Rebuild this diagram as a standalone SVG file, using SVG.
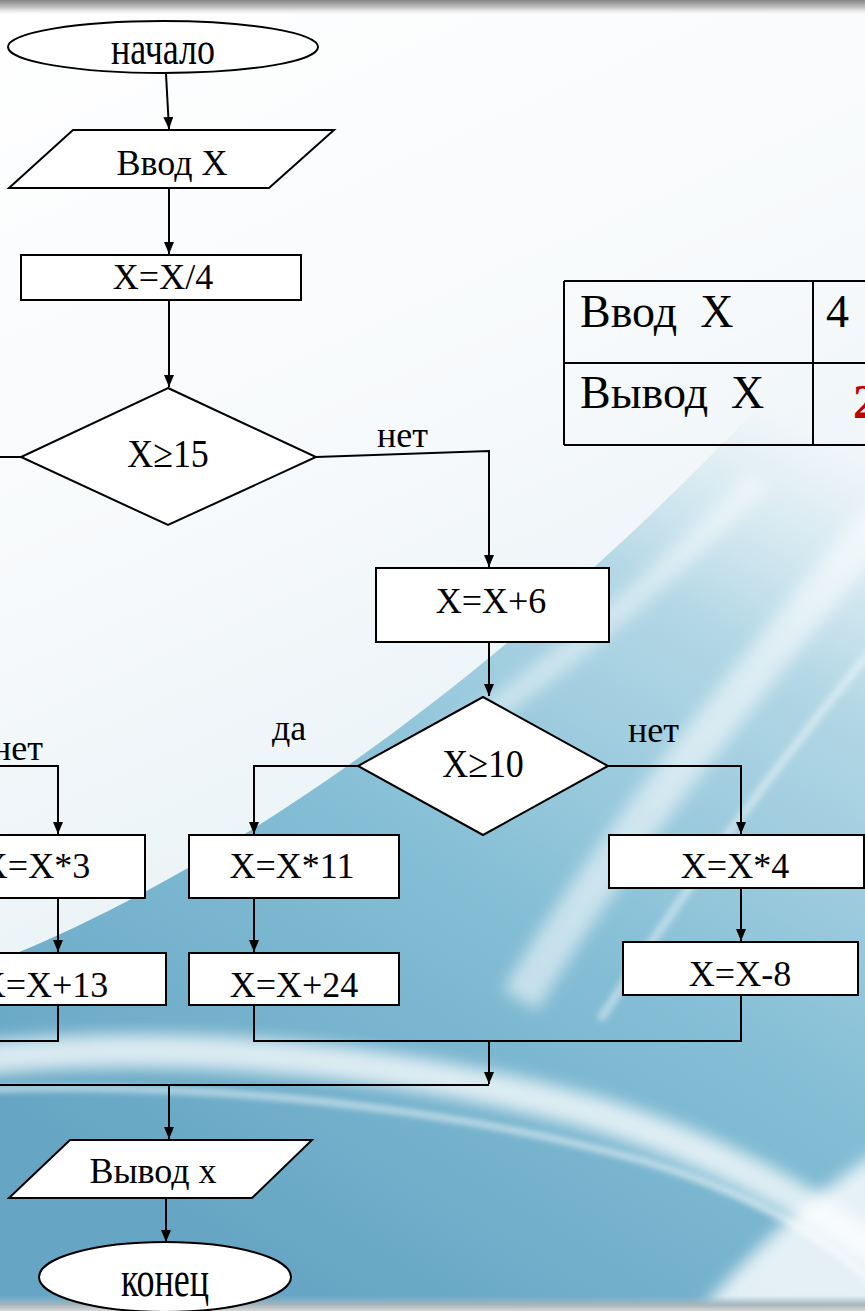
<svg xmlns="http://www.w3.org/2000/svg" width="865" height="1311" viewBox="0 0 865 1311">
<defs>
<linearGradient id="bgBase" x1="0" y1="0" x2="0.3" y2="1">
<stop offset="0" stop-color="#ffffff"/>
<stop offset="0.45" stop-color="#f6f9fb"/>
<stop offset="1" stop-color="#dcecf3"/>
</linearGradient>
<linearGradient id="blueArea" gradientUnits="userSpaceOnUse" x1="760" y1="400" x2="250" y2="1250">
<stop offset="0" stop-color="#bcdde9" stop-opacity="0"/>
<stop offset="0.22" stop-color="#a9d2e2" stop-opacity="0.85"/>
<stop offset="0.55" stop-color="#86bfd6"/>
<stop offset="1" stop-color="#66a6c4"/>
</linearGradient>
<linearGradient id="topBar" x1="0" y1="0" x2="0" y2="1">
<stop offset="0" stop-color="#858585"/>
<stop offset="0.5" stop-color="#c8c8c8"/>
<stop offset="1" stop-color="#ffffff" stop-opacity="0"/>
</linearGradient>
<linearGradient id="botBar" x1="0" y1="0" x2="0" y2="1">
<stop offset="0" stop-color="#9fb9c6" stop-opacity="0"/>
<stop offset="0.6" stop-color="#a9b4ba"/>
<stop offset="1" stop-color="#d8d8d8"/>
</linearGradient>
<filter id="blur8" x="-20%" y="-20%" width="140%" height="140%"><feGaussianBlur stdDeviation="8"/></filter>
<filter id="blur3" x="-20%" y="-20%" width="140%" height="140%"><feGaussianBlur stdDeviation="3"/></filter>
<marker id="arr" markerUnits="userSpaceOnUse" markerWidth="12" markerHeight="10" refX="12" refY="5" orient="auto">
<path d="M0,0 L12,5 L0,10 Z" fill="#000"/>
</marker>
<style>
.shape{fill:#fff;stroke:#000;stroke-width:2}
.conn{fill:none;stroke:#000;stroke-width:2}
.t{font-family:"Liberation Serif","Times New Roman",serif;font-size:36px;fill:#000;text-anchor:middle}
.lbl{font-family:"Liberation Serif","Times New Roman",serif;font-size:36px;fill:#000}
.tb{font-family:"Liberation Serif","Times New Roman",serif;font-size:46px;fill:#000}
</style>
</defs>

<g id="background">
<rect x="0" y="0" width="865" height="1311" fill="url(#bgBase)"/>
<path d="M0,960 C250,860 560,640 865,290 L865,1311 L0,1311 Z" fill="url(#blueArea)"/>
<path d="M-30,1060 C200,1035 420,1065 600,1115 C700,1145 800,1195 880,1255" fill="none" stroke="#ffffff" stroke-width="34" opacity="0.75" filter="url(#blur8)"/>
<path d="M-30,1090 C220,1080 460,1110 640,1160 C740,1190 820,1230 880,1290" fill="none" stroke="#ffffff" stroke-width="6" opacity="0.6" filter="url(#blur3)"/>
<path d="M520,1000 C610,850 740,690 880,520" fill="none" stroke="#ffffff" stroke-width="40" opacity="0.55" filter="url(#blur8)"/>
<path d="M600,1020 C690,880 780,760 880,640" fill="none" stroke="#ffffff" stroke-width="8" opacity="0.45" filter="url(#blur3)"/>
<path d="M700,1311 C760,1240 820,1190 880,1150 L880,1311 Z" fill="#ffffff" opacity="0.8" filter="url(#blur8)"/>
<path d="M400,770 C520,700 640,600 760,480" fill="none" stroke="#ffffff" stroke-width="24" opacity="0.45" filter="url(#blur8)"/>
<rect x="0" y="0" width="865" height="16" fill="url(#topBar)"/>
<rect x="0" y="1296" width="865" height="15" fill="url(#botBar)"/>
</g>

<g id="connectors">
<path class="conn" d="M166,74 L169,129" marker-end="url(#arr)"/>
<path class="conn" d="M169,188 L169,254" marker-end="url(#arr)"/>
<path class="conn" d="M169,300 L169,387" marker-end="url(#arr)"/>
<path class="conn" d="M21,457 L0,457"/>
<path class="conn" d="M316,457 L489,451 L489,567" marker-end="url(#arr)"/>
<path class="conn" d="M489,642 L489,696" marker-end="url(#arr)"/>
<path class="conn" d="M358,766 L254,766 L254,834" marker-end="url(#arr)"/>
<path class="conn" d="M608,766 L741,766 L741,834" marker-end="url(#arr)"/>
<path class="conn" d="M254,898 L254,952" marker-end="url(#arr)"/>
<path class="conn" d="M741,888 L741,941" marker-end="url(#arr)"/>
<path class="conn" d="M0,766 L58,766 L58,834" marker-end="url(#arr)"/>
<path class="conn" d="M58,898 L58,952" marker-end="url(#arr)"/>
<path class="conn" d="M254,1005 L254,1041 L741,1041 L741,995"/>
<path class="conn" d="M489,1041 L489,1084" marker-end="url(#arr)"/>
<path class="conn" d="M58,1005 L58,1041 L0,1041"/>
<path class="conn" d="M0,1085 L489,1085"/>
<path class="conn" d="M169,1085 L169,1139" marker-end="url(#arr)"/>
<path class="conn" d="M166,1198 L166,1242" marker-end="url(#arr)"/>
</g>

<g id="start">
<ellipse class="shape" cx="163" cy="47" rx="155" ry="26"/>
<text class="t" transform="translate(163,64) scale(1,1.3)" x="0" y="0">начало</text>
</g>
<g id="input">
<polygon class="shape" points="73,130 334,130 269,188 9,188"/>
<text class="t" x="172" y="175">Ввод Х</text>
</g>
<g id="div4">
<rect class="shape" x="21" y="255" width="280" height="45"/>
<text class="t" x="163" y="289">X=X/4</text>
</g>
<g id="cond15">
<polygon class="shape" points="168,388 316,457 168,525 21,457"/>
<text class="t" transform="translate(168,467) scale(1,1.1)" x="0" y="0">X≥15</text>
</g>
<g id="lbl-no1"><text class="lbl" x="377" y="447">нет</text></g>
<g id="add6">
<rect class="shape" x="376" y="568" width="233" height="74"/>
<text class="t" x="491" y="613">X=X+6</text>
</g>
<g id="cond10">
<polygon class="shape" points="483,697 608,766 483,835 358,766"/>
<text class="t" transform="translate(483,777) scale(1,1.1)" x="0" y="0">X≥10</text>
</g>
<g id="lbl-yes2"><text class="lbl" x="272" y="740">да</text></g>
<g id="lbl-no2"><text class="lbl" x="628" y="742">нет</text></g>
<g id="lbl-no3"><text class="lbl" x="-8" y="760">нет</text></g>
<g id="mul3">
<rect class="shape" x="-80" y="835" width="225" height="63"/>
<text class="t" x="36" y="878">X=X*3</text>
</g>
<g id="add13">
<rect class="shape" x="-80" y="953" width="246" height="52"/>
<text class="t" x="44" y="997">X=X+13</text>
</g>
<g id="mul11">
<rect class="shape" x="189" y="835" width="210" height="63"/>
<text class="t" x="292" y="878">X=X*11</text>
</g>
<g id="add24">
<rect class="shape" x="189" y="953" width="210" height="52"/>
<text class="t" x="294" y="997">X=X+24</text>
</g>
<g id="mul4">
<rect class="shape" x="609" y="835" width="255" height="53"/>
<text class="t" x="735" y="878">X=X*4</text>
</g>
<g id="sub8">
<rect class="shape" x="623" y="942" width="235" height="53"/>
<text class="t" x="740" y="986">X=X-8</text>
</g>
<g id="output">
<polygon class="shape" points="70,1140 312,1140 252,1198 9,1198"/>
<text class="t" x="153" y="1183">Вывод х</text>
</g>
<g id="end">
<ellipse class="shape" cx="165" cy="1277" rx="126" ry="35"/>
<text class="t" transform="translate(165,1296) scale(1,1.4)" x="0" y="0">конец</text>
</g>

<g id="table">
<path class="conn" d="M564,281 L875,281 M564,363 L875,363 M564,445 L875,445 M564,281 L564,445 M813,281 L813,445"/>
<text class="tb" x="580" y="327" xml:space="preserve">Ввод  Х</text>
<text class="tb" x="826" y="327">4</text>
<text class="tb" x="580" y="408" xml:space="preserve">Вывод  Х</text>
<text x="853" y="418" font-family="Liberation Serif, Times New Roman, serif" font-size="48" font-weight="bold" fill="#c00000">2</text>
</g>
</svg>
